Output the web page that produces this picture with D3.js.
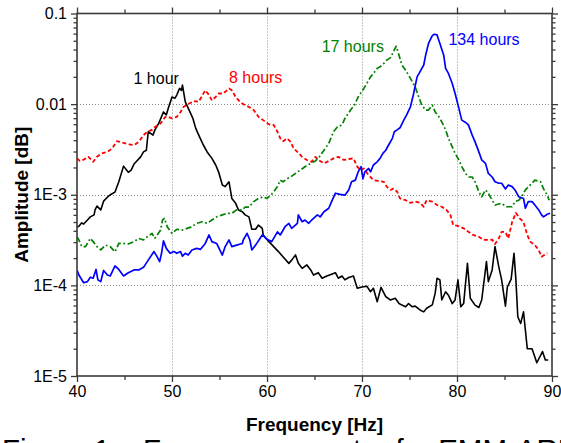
<!DOCTYPE html>
<html>
<head>
<meta charset="utf-8">
<script src="https://cdn.jsdelivr.net/npm/d3@7"></script>
<style>
  html, body { margin: 0; padding: 0; background: #fff; overflow: hidden; }
  svg { display: block; }
  text { font-family: "Liberation Sans", Arial, Helvetica, sans-serif; }
</style>
</head>
<body>
<svg id="chart" width="561" height="443"></svg>
<script>
// Frequency spectra, amplitude vs frequency, one series per curing age.
// Each entry: [frequency in Hz, amplitude]
const hour1 = [
  [40.0,4.4e-4],[40.2,4.5e-4],[40.5,4.9e-4],[40.7,4.75e-4],[41.1,5.26e-4],[41.4,5.7e-4],[41.8,6.0e-4],[41.9,6.8e-4],[42.1,7.5e-4],[42.5,6.8e-4],
  [42.8,8.5e-4],[43.2,9.4e-4],[43.5,1.0e-3],[44.0,1.07e-3],[44.4,1.39e-3],[44.9,2.07e-3],[45.4,1.77e-3],[45.7,1.87e-3],[46.0,2.18e-3],[46.3,2.36e-3],
  [46.7,2.62e-3],[47.0,2.97e-3],[47.3,3.1e-3],[47.5,4.96e-3],[48.0,4.55e-3],[48.2,5.2e-3],[48.6,6.13e-3],[49.1,8.2e-3],[49.4,7.6e-3],[49.6,8.97e-3],
  [50.0,1.2e-2],[50.3,1.16e-2],[50.5,1.26e-2],[50.8,1.49e-2],[51.0,1.42e-2],[51.1,1.62e-2],[51.4,1.06e-2],[51.8,8.6e-3],[52.2,6.95e-3],[52.5,5.4e-3],
  [52.9,4.35e-3],[53.3,3.54e-3],[53.7,2.97e-3],[54.2,2.52e-3],[54.6,2.13e-3],[54.9,1.79e-3],[55.3,1.28e-3],[55.6,1.23e-3],[56.0,1.39e-3],[56.3,9.1e-4],
  [56.7,8.04e-4],[57.0,6.8e-4],[57.4,6.5e-4],[57.7,6.0e-4],[58.1,5.7e-4],[58.4,4.16e-4],[58.8,4.16e-4],[59.1,4.63e-4],[59.5,4.26e-4],[59.6,3.6e-4],
  [60.2,3.04e-4],[60.7,2.68e-4],[61.2,2.36e-4],[61.8,2.0e-4],[62.3,1.75e-4],[62.6,1.9e-4],[63.0,2.17e-4],[63.3,1.75e-4],[63.7,1.54e-4],[64.2,1.68e-4],
  [64.6,1.48e-4],[64.9,1.3e-4],[65.4,1.38e-4],[65.8,1.2e-4],[66.3,1.27e-4],[66.8,1.33e-4],[67.2,1.38e-4],[67.5,1.2e-4],[67.9,1.27e-4],[68.2,1.15e-4],
  [68.6,1.22e-4],[69.1,1.27e-4],[69.5,9.3e-5],[70.0,9.6e-5],[70.5,9.8e-5],[70.9,8.5e-5],[71.2,9.3e-5],[71.6,6.6e-5],[72.0,9.5e-5],[72.5,7.5e-5],
  [73.0,6.9e-5],[73.5,7.2e-5],[73.9,6.3e-5],[74.2,6.06e-5],[74.6,5.8e-5],[74.9,6.3e-5],[75.3,5.8e-5],[75.6,5.9e-5],[76.1,5.35e-5],[76.5,5.1e-5],
  [76.8,5.6e-5],[77.4,6.1e-5],[77.7,8.16e-5],[77.9,1.2e-4],[78.2,1.15e-4],[78.4,6.9e-5],[78.8,8.5e-5],[79.1,7.8e-5],[79.5,6.3e-5],[79.8,6.9e-5],
  [80.1,1.15e-4],[80.4,5.8e-5],[80.7,6.3e-5],[81.1,1.75e-4],[81.4,7.2e-5],[81.9,6.06e-5],[82.3,5.7e-5],[82.6,6.9e-5],[83.1,1.83e-4],[83.3,1.1e-4],
  [83.7,1.48e-4],[84.0,2.68e-4],[84.4,1.6e-4],[84.7,1.15e-4],[85.1,5.9e-5],[85.3,9.6e-5],[85.7,1.17e-4],[86.0,2.26e-4],[86.2,1.15e-4],[86.4,4.5e-5],
  [86.7,3.8e-5],[87.0,5.1e-5],[87.2,3.2e-5],[87.4,2.0e-5],[87.9,2.0e-5],[88.4,1.4e-5],[89.0,1.86e-5],[89.3,1.5e-5],[89.6,1.5e-5]
];

const hours8 = [
  [40.0,2.52e-3],[40.3,2.36e-3],[40.7,2.44e-3],[41.2,2.62e-3],[41.7,2.31e-3],[42.1,2.62e-3],[42.6,2.86e-3],[43.2,2.97e-3],[43.7,3.24e-3],[44.2,3.9e-3],
  [44.7,3.79e-3],[45.4,3.6e-3],[46.0,3.54e-3],[46.5,3.83e-3],[47.0,4.55e-3],[47.4,4.96e-3],[47.9,5.2e-3],[48.2,5.6e-3],[48.8,6.13e-3],[49.3,7.24e-3],
  [49.6,7.24e-3],[50.0,6.95e-3],[50.5,7.24e-3],[50.9,8.2e-3],[51.2,9.3e-3],[51.7,1.0e-2],[52.3,1.08e-2],[52.8,1.06e-2],[53.1,1.2e-2],[53.5,1.42e-2],
  [53.9,1.26e-2],[54.2,1.1e-2],[54.6,1.2e-2],[54.9,1.31e-2],[55.4,1.31e-2],[56.0,1.49e-2],[56.3,1.42e-2],[56.7,1.2e-2],[57.2,1.05e-2],[57.5,1.0e-2],
  [58.1,9.3e-3],[58.6,8.6e-3],[59.1,7.24e-3],[59.6,6.66e-3],[60.2,5.98e-3],[60.7,5.9e-3],[61.1,4.96e-3],[61.4,4.19e-3],[61.7,3.9e-3],[62.1,4.19e-3],
  [62.5,3.83e-3],[62.8,3.24e-3],[63.2,2.97e-3],[63.7,2.62e-3],[64.2,2.42e-3],[64.7,2.31e-3],[65.1,2.62e-3],[65.4,2.42e-3],[66.0,2.22e-3],[66.5,2.36e-3],
  [67.0,2.52e-3],[67.5,2.62e-3],[68.1,2.42e-3],[68.6,2.48e-3],[69.1,2.52e-3],[69.5,2.04e-3],[69.8,1.87e-3],[70.2,1.95e-3],[70.7,1.65e-3],[71.2,1.45e-3],
  [71.7,1.42e-3],[72.3,1.39e-3],[72.6,1.23e-3],[73.0,1.13e-3],[73.3,1.17e-3],[73.7,1.08e-3],[74.0,9.1e-4],[74.6,8.7e-4],[75.1,8.16e-4],[75.6,8.4e-4],
  [76.1,8.16e-4],[76.5,7.37e-4],[76.8,8.7e-4],[77.4,8.4e-4],[77.9,7.7e-4],[78.4,7.37e-4],[78.9,6.8e-4],[79.3,6.0e-4],[79.6,4.63e-4],[80.2,4.5e-4],
  [80.7,4.26e-4],[81.2,3.9e-4],[81.7,3.6e-4],[82.3,3.44e-4],[82.8,3.17e-4],[83.3,3.17e-4],[83.7,3.2e-4],[84.0,2.86e-4],[84.4,3.3e-4],[84.7,3.9e-4],
  [85.1,3.9e-4],[85.4,3.3e-4],[85.8,5.0e-4],[86.2,6.3e-4],[86.6,5.5e-4],[87.0,5.0e-4],[87.4,3.6e-4],[87.7,3.04e-4],[88.2,2.78e-4],[88.6,2.46e-4],
  [88.9,2.07e-4],[89.5,2.27e-4]
];

const hours17 = [
  [40.0,3.44e-4],[40.2,3.17e-4],[40.5,2.68e-4],[40.9,2.68e-4],[41.4,3.3e-4],[41.7,3.04e-4],[42.1,2.68e-4],[42.5,2.46e-4],[43.0,2.78e-4],[43.5,2.68e-4],
  [44.0,2.34e-4],[44.4,2.9e-4],[44.9,2.9e-4],[45.4,2.86e-4],[46.0,3.04e-4],[46.5,3.3e-4],[47.0,3.17e-4],[47.4,3.44e-4],[47.9,3.75e-4],[48.2,3.3e-4],
  [48.8,4.08e-4],[49.0,5.26e-4],[49.2,5.5e-4],[49.5,4.44e-4],[50.0,3.75e-4],[50.5,4.16e-4],[51.1,4.08e-4],[51.6,4.26e-4],[52.1,4.44e-4],[52.6,4.84e-4],
  [53.2,5.04e-4],[53.7,4.84e-4],[54.2,5.26e-4],[54.7,5.7e-4],[55.3,6.0e-4],[55.8,6.24e-4],[56.3,6.24e-4],[56.8,6.8e-4],[57.4,6.8e-4],[57.7,7.3e-4],
  [58.1,7.3e-4],[58.6,8.4e-4],[59.1,9.1e-4],[59.6,9.5e-4],[60.0,9.1e-4],[60.4,9.9e-4],[60.7,1.08e-3],[61.1,1.23e-3],[61.4,1.45e-3],[61.7,1.39e-3],
  [62.1,1.5e-3],[62.5,1.57e-3],[63.0,1.72e-3],[63.5,1.87e-3],[64.0,2.04e-3],[64.6,2.22e-3],[65.1,2.36e-3],[65.4,2.52e-3],[66.0,3.1e-3],[66.5,3.69e-3],
  [67.0,4.96e-3],[67.4,5.6e-3],[67.9,5.9e-3],[68.2,6.95e-3],[68.8,8.6e-3],[69.2,9.75e-3],[69.6,1.2e-2],[70.2,1.49e-2],[70.5,1.69e-2],[70.9,2.0e-2],
  [71.2,2.18e-2],[71.6,2.48e-2],[71.9,2.58e-2],[72.3,2.81e-2],[72.6,3.06e-2],[73.0,3.26e-2],[73.3,3.77e-2],[73.6,4.36e-2],[73.9,3.47e-2],[74.2,2.7e-2],
  [74.6,2.37e-2],[75.1,1.92e-2],[75.6,1.55e-2],[75.9,1.26e-2],[76.3,9.75e-3],[76.7,8.6e-3],[77.0,8.6e-3],[77.4,9.75e-3],[77.7,8.2e-3],[78.1,7.24e-3],
  [78.4,6.38e-3],[78.8,5.2e-3],[79.1,4.19e-3],[79.5,3.38e-3],[79.8,2.86e-3],[80.2,2.42e-3],[80.5,2.04e-3],[80.9,1.72e-3],[81.2,1.57e-3],[81.6,1.57e-3],
  [81.9,1.39e-3],[82.3,1.08e-3],[82.6,9.5e-4],[83.0,1.13e-3],[83.3,1.04e-3],[83.7,8.7e-4],[84.0,7.7e-4],[84.4,7.9e-4],[84.7,8.04e-4],[85.2,7.37e-4],
  [85.8,7.37e-4],[86.1,8.4e-4],[86.5,8.7e-4],[86.8,9.5e-4],[87.2,1.13e-3],[87.7,1.28e-3],[88.2,1.45e-3],[88.8,1.39e-3],[89.1,1.17e-3],[89.5,9.9e-4],
  [89.7,8.7e-4]
];

const hours134 = [
  [40.0,1.48e-4],[40.2,1.3e-4],[40.7,1.07e-4],[41.1,1.1e-4],[41.4,1.23e-4],[41.7,1.2e-4],[42.0,1.5e-4],[42.2,1.15e-4],[42.5,1.1e-4],[42.8,1.46e-4],
  [43.2,1.3e-4],[43.5,1.27e-4],[44.0,1.64e-4],[44.4,1.5e-4],[44.9,1.27e-4],[45.4,1.38e-4],[46.0,1.48e-4],[46.5,1.48e-4],[47.0,1.58e-4],[47.5,1.9e-4],
  [48.1,2.36e-4],[48.4,2.1e-4],[48.7,1.83e-4],[48.9,2.26e-4],[49.1,3.1e-4],[49.4,2.56e-4],[49.8,2.26e-4],[50.2,2.36e-4],[50.5,2.26e-4],[50.9,2.36e-4],
  [51.1,2.1e-4],[51.4,2.26e-4],[51.7,2.16e-4],[52.1,2.46e-4],[52.6,2.56e-4],[53.0,2.5e-4],[53.5,2.9e-4],[53.9,3.6e-4],[54.2,3.04e-4],[54.7,2.9e-4],
  [55.3,2.16e-4],[55.6,2.68e-4],[56.0,3.17e-4],[56.3,2.68e-4],[56.8,2.78e-4],[57.4,2.9e-4],[57.5,3.17e-4],[57.9,3.75e-4],[58.2,3.17e-4],[58.4,2.46e-4],
  [58.8,2.78e-4],[59.5,3.6e-4],[60.0,3.22e-4],[60.5,3.04e-4],[61.1,3.9e-4],[61.4,3.6e-4],[61.9,4.44e-4],[62.3,4.84e-4],[62.6,4.26e-4],[63.2,4.84e-4],
  [63.3,6.0e-4],[63.7,5.04e-4],[64.0,5.26e-4],[64.4,4.84e-4],[64.7,5.26e-4],[65.3,6.0e-4],[65.6,5.7e-4],[66.0,6.5e-4],[66.5,7.1e-4],[66.8,8.4e-4],
  [67.2,1.04e-3],[67.7,1.01e-3],[68.2,9.9e-4],[68.6,1.13e-3],[68.9,1.39e-3],[69.3,1.45e-3],[69.6,1.79e-3],[69.9,2.04e-3],[70.1,1.5e-3],[70.3,1.79e-3],
  [70.7,1.95e-3],[70.9,1.79e-3],[71.2,2.13e-3],[71.6,2.31e-3],[71.9,2.52e-3],[72.2,2.86e-3],[72.5,3.1e-3],[72.8,3.54e-3],[73.2,4.19e-3],[73.4,4.96e-3],
  [73.7,5.2e-3],[74.0,5.48e-3],[74.4,6.66e-3],[74.7,7.6e-3],[75.1,9.35e-3],[75.4,1.26e-2],[75.8,2.0e-2],[76.1,2.27e-2],[76.5,2.7e-2],[76.7,3.47e-2],
  [77.0,4.67e-2],[77.4,5.7e-2],[77.6,5.9e-2],[77.9,5.8e-2],[78.2,4.67e-2],[78.6,3.47e-2],[78.8,2.48e-2],[79.1,2.18e-2],[79.5,1.69e-2],[79.8,1.31e-2],
  [80.2,8.97e-3],[80.5,6.66e-3],[80.9,6.28e-3],[81.2,5.9e-3],[81.6,4.55e-3],[81.9,3.83e-3],[82.3,2.97e-3],[82.6,2.42e-3],[83.0,2.22e-3],[83.3,1.72e-3],
  [83.7,1.57e-3],[84.0,1.39e-3],[84.4,1.34e-3],[84.7,1.34e-3],[85.1,1.16e-3],[85.4,1.28e-3],[85.8,1.23e-3],[86.1,1.13e-3],[86.5,9.5e-4],[87.0,9.1e-4],
  [87.2,7.1e-4],[87.5,8.4e-4],[87.9,8.4e-4],[88.2,7.7e-4],[88.6,6.8e-4],[88.9,6.0e-4],[89.1,5.7e-4],[89.5,6.1e-4],[89.8,6.24e-4]
];

const seriesNames = ["1 hour", "8 hours", "17 hours", "134 hours"];
const xTickValues = [40, 50, 60, 70, 80, 90];
const xTickLabels = ["40", "50", "60", "70", "80", "90"];
const yTickValues = [1e-5, 1e-4, 1e-3, 1e-2, 1e-1];
const yTickLabels = ["1E-5", "1E-4", "1E-3", "0.01", "0.1"];
const xTitle = "Frequency [Hz]";
const yTitle = "Amplitude [dB]";
const caption = "Figure 1 \u2013 Frequency spectra for EMM-ARM";

// ---- layout ----
const svg = d3.select("#chart");
const plotL = 77, plotR = 552, plotT = 13.5, plotB = 376;

const x = d3.scaleLinear().domain([40, 90]).range([plotL, plotR]);
const y = d3.scaleLog().domain([1e-5, 0.1]).range([plotB, plotT]);

const axisColor = "#3a3a3a";

// minor tick positions
const xMinor = d3.range(45, 90, 10);
const yMinor = [];
for (let e = -5; e <= -2; e++) {
  for (let m = 2; m <= 9; m++) yMinor.push(m * Math.pow(10, e));
}

// ---- grid ----
const grid = svg.append("g").attr("stroke", "#8c8c8c").attr("stroke-width", 1)
  .attr("stroke-dasharray", "1,2");
grid.selectAll("line.gx").data(xTickValues.slice(1, -1)).join("line").attr("class", "gx")
  .attr("x1", d => Math.round(x(d)) + 0.5).attr("x2", d => Math.round(x(d)) + 0.5)
  .attr("y1", plotT).attr("y2", plotB);
grid.selectAll("line.gy").data(yTickValues.slice(1, -1)).join("line").attr("class", "gy")
  .attr("y1", d => Math.round(y(d)) + 0.5).attr("y2", d => Math.round(y(d)) + 0.5)
  .attr("x1", plotL).attr("x2", plotR);

// ---- series ----
svg.append("defs").append("clipPath").attr("id", "plotClip")
  .append("rect").attr("x", plotL).attr("y", plotT).attr("width", plotR - plotL).attr("height", plotB - plotT);

const line = d3.line().x(d => x(d[0])).y(d => y(d[1]));
const seriesStyles = [
  { data: hour1,    color: "#000000", width: 1.6, dash: null },
  { data: hours8,   color: "#ff0000", width: 1.8, dash: "4,2.5" },
  { data: hours17,  color: "#008000", width: 1.7, dash: "6,2.5,1.8,2.5" },
  { data: hours134, color: "#0000ff", width: 1.7, dash: null }
];
const plot = svg.append("g").attr("clip-path", "url(#plotClip)");
seriesStyles.forEach(s => {
  plot.append("path").datum(s.data)
    .attr("fill", "none").attr("stroke", s.color).attr("stroke-width", s.width)
    .attr("stroke-linejoin", "round")
    .attr("stroke-dasharray", s.dash)
    .attr("d", line);
});

// ---- axes ----
function styleAxis(g) {
  g.select(".domain").remove();
  g.selectAll(".tick line").attr("stroke", axisColor).attr("stroke-width", 1.3);
  g.selectAll(".tick text").attr("fill", "#000").attr("font-size", 16)
    .attr("font-family", "Liberation Sans, Arial, sans-serif");
}
const fmtX = (d) => xTickLabels[xTickValues.indexOf(d)];
const fmtY = (d) => yTickLabels[yTickValues.findIndex(v => Math.abs(Math.log10(v) - Math.log10(d)) < 1e-6)];

svg.append("g").attr("transform", `translate(0,${plotB})`)
  .call(d3.axisBottom(x).tickValues(xTickValues).tickSize(6).tickPadding(4).tickFormat(fmtX)).call(styleAxis);
svg.append("g").attr("transform", `translate(0,${plotB})`)
  .call(d3.axisBottom(x).tickValues(xMinor).tickSize(4).tickFormat("")).call(styleAxis);
svg.append("g").attr("transform", `translate(0,${plotT})`)
  .call(d3.axisTop(x).tickValues(xTickValues).tickSize(6).tickFormat("")).call(styleAxis);
svg.append("g").attr("transform", `translate(0,${plotT})`)
  .call(d3.axisTop(x).tickValues(xMinor).tickSize(4).tickFormat("")).call(styleAxis);

svg.append("g").attr("transform", `translate(${plotL},0)`)
  .call(d3.axisLeft(y).tickValues(yTickValues).tickSize(6).tickPadding(4).tickFormat(fmtY)).call(styleAxis);
svg.append("g").attr("transform", `translate(${plotL},0)`)
  .call(d3.axisLeft(y).tickValues(yMinor).tickSize(3.5).tickFormat("")).call(styleAxis);
svg.append("g").attr("transform", `translate(${plotR},0)`)
  .call(d3.axisRight(y).tickValues(yTickValues).tickSize(6).tickFormat("")).call(styleAxis);
svg.append("g").attr("transform", `translate(${plotR},0)`)
  .call(d3.axisRight(y).tickValues(yMinor).tickSize(3.5).tickFormat("")).call(styleAxis);

// frame
svg.append("rect").attr("x", plotL).attr("y", plotT).attr("width", plotR - plotL).attr("height", plotB - plotT)
  .attr("fill", "none").attr("stroke", axisColor).attr("stroke-width", 1.6);

// ---- series labels, anchored in data space ----
const labelPos = [
  { f: 45.95, a: 1.65e-2 },
  { f: 56.0,  a: 1.7e-2 },
  { f: 65.75, a: 3.78e-2 },
  { f: 79.1,  a: 4.5e-2 }
];
svg.append("g").selectAll("text").data(seriesNames).join("text")
  .attr("x", (d, i) => x(labelPos[i].f))
  .attr("y", (d, i) => y(labelPos[i].a))
  .attr("fill", (d, i) => seriesStyles[i].color)
  .attr("font-size", 16)
  .text(d => d);

// ---- titles ----
svg.append("text").attr("x", (plotL + plotR) / 2).attr("y", 431)
  .attr("text-anchor", "middle").attr("font-weight", "bold").attr("font-size", 19)
  .text(xTitle);
svg.append("text").attr("transform", `translate(28,${(plotT + plotB) / 2}) rotate(-90)`)
  .attr("text-anchor", "middle").attr("font-weight", "bold").attr("font-size", 19)
  .text(yTitle);

svg.append("text").attr("x", 2).attr("y", 460).attr("font-size", 29.5)
  .text(caption);
</script>
</body>
</html>
